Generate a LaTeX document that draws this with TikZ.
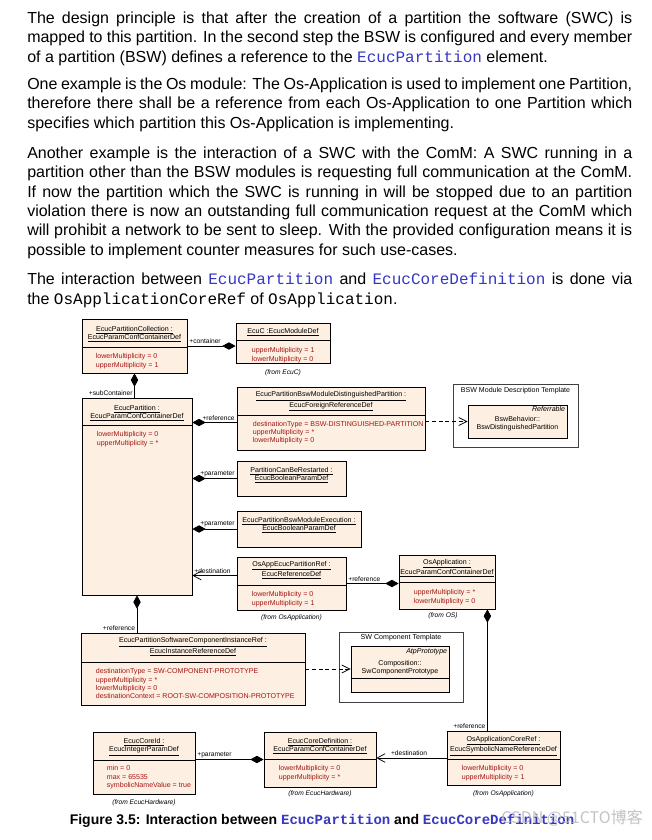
\documentclass[tikz,border=0pt]{standalone}
\usepackage{fontspec}
\setmainfont{Liberation Sans}
\setsansfont{Liberation Sans}
\setmonofont{Liberation Mono}
\newfontfamily\cjkfont{Noto Sans CJK SC}
\usetikzlibrary{positioning,arrows.meta,fit,calc}

\definecolor{classfill}{RGB}{253,240,226}
\definecolor{attrred}{RGB}{165,20,20}
\definecolor{codeblue}{RGB}{55,55,195}
\newcommand{\code}[1]{{\ttfamily\color{codeblue}#1}}
\newcommand{\plaincode}[1]{{\ttfamily #1}}
\newcommand{\fullline}[1]{\makebox[453.75pt][s]{#1}}

\begin{document}
\begin{tikzpicture}[
  x=0.75pt, y=-0.75pt,
  body/.style={anchor=base west, inner sep=0pt, align=left,
    font=\fontsize{12}{14.5}\selectfont},
  umlbox/.style={draw=black, fill=classfill, line width=0.6pt, inner sep=0pt},
  pkgbox/.style={draw=black!75, fill=white, line width=0.5pt, inner sep=0pt},
  umlhead/.style={anchor=base, inner sep=0pt, align=center,
    font=\fontsize{5.3}{6}\selectfont},
  umlattr/.style={anchor=base west, inner sep=0pt, align=left, text=attrred,
    font=\fontsize{5.3}{6.3}\selectfont},
  fromnote/.style={anchor=base, inner sep=0pt, font=\fontsize{5}{6}\selectfont\itshape},
  rolelbl/.style={inner sep=1.2pt, font=\fontsize{5}{6}\selectfont},
  comp/.style={draw, line width=0.55pt, {Diamond[length=10pt,width=5.5pt]}-},
  navig/.style={draw, line width=0.55pt, -{Straight Barb[length=6pt,width=6.5pt]}},
  depend/.style={draw, line width=0.6pt, dash pattern=on 3pt off 2pt,
    -{Straight Barb[length=6pt,width=6pt]}}
]
  \fill[white] (0,0) rectangle (652,840);
  \useasboundingbox (0,0) rectangle (652,840);

  % text above the figure (base = last line)
  \node[body] (par1) at (27,62) {\fullline{The design principle is that after the creation of a partition the software (SWC) is}\\
    \fullline{mapped to this partition. In the second step the BSW is configured and every member}\\
    of a partition (BSW) defines a reference to the \code{EcucPartition} element.};
  \node[body] (par2) at (27,128) {\fullline{One example is the Os module: The Os-Application is used to implement one Partition,}\\
    \fullline{therefore there shall be a reference from each Os-Application to one Partition which}\\
    specifies which partition this Os-Application is implementing.};
  \node[body] (par3) at (27,255) {\fullline{Another example is the interaction of a SWC with the ComM: A SWC running in a}\\
    \fullline{partition other than the BSW modules is requesting full communication at the ComM.}\\
    \fullline{If now the partition which the SWC is running in will be stopped due to an partition}\\
    \fullline{violation there is now an outstanding full communication request at the ComM which}\\
    \fullline{will prohibit a network to be sent to sleep. With the provided configuration means it is}\\
    possible to implement counter measures for such use-cases.};
  \node[body] (par4) at (27,304) {\fullline{The interaction between \code{EcucPartition} and \code{EcucCoreDefinition} is done via}\\
    the \plaincode{OsApplicationCoreRef} of \plaincode{OsApplication}.};

  % classes
  \node[umlbox, fit={(82,319)(187,373)}] (coll) {};
  \node[umlhead] (collhd) at ($(coll.north)+(0,21)$) {\underline{EcucPartitionCollection :}\\\underline{EcucParamConfContainerDef}};
  \draw ($(coll.north west)+(0,29)$) -- ($(coll.north east)+(0,29)$);
  \node[umlattr] (collat) at ($(coll.north west)+(14,48.4)$) {lowerMultiplicity = 0\\upperMultiplicity = 1};

  \node[umlbox, fit={(236,323)(330,363)}] (ecuc) {};
  \node[umlhead] (ecuchd) at ($(ecuc.north)+(0,11)$) {\underline{EcuC :EcucModuleDef}};
  \draw ($(ecuc.north west)+(0,18)$) -- ($(ecuc.north east)+(0,18)$);
  \node[umlattr] (ecucat) at ($(ecuc.north west)+(16,38.4)$) {upperMultiplicity = 1\\lowerMultiplicity = 0};
  \node[fromnote] (ecucfrom) at ($(ecuc.south)+(0,11)$) {(from EcuC)};

  \node[umlbox, fit={(82,398)(192,595)}] (part) {};
  \node[umlhead] (parthd) at ($(part.north)+(0,21)$) {\underline{EcucPartition :}\\\underline{EcucParamConfContainerDef}};
  \draw ($(part.north west)+(0,28)$) -- ($(part.north east)+(0,28)$);
  \node[umlattr] (partat) at ($(part.north west)+(15,47.4)$) {lowerMultiplicity = 0\\upperMultiplicity = *};

  \node[umlbox, fit={(237,387)(425,450)}] (dist) {};
  \node[umlhead] (disthd) at ($(dist.north)+(0,20.5)$) {\underline{EcucPartitionBswModuleDistinguishedPartition :}\\\underline{EcucForeignReferenceDef}};
  \draw ($(dist.north west)+(0,29)$) -- ($(dist.north east)+(0,29)$);
  \node[umlattr] (distat) at ($(dist.north west)+(16,56.3)$) {destinationType = BSW-DISTINGUISHED-PARTITION\\upperMultiplicity = *\\lowerMultiplicity = 0};

  \node[pkgbox, fit={(453,384)(578,447)}] (bswpkg) {};
  \node[umlhead] (bswpkghd) at ($(bswpkg.north)+(0,9)$) {BSW Module Description Template};
  \node[umlbox, fit={(468,405)(567,438)}] (bswin) {};
  \node[umlhead, anchor=base east, font=\fontsize{5.3}{6}\selectfont\itshape] (bswinst) at ($(bswin.north east)+(-2,7)$) {Referrable};
  \node[umlhead] (bswinhd) at ($(bswin.north)+(0,24.5)$) {BswBehavior::\\BswDistinguishedPartition};

  \node[umlbox, fit={(237,461)(346,496)}] (pcbr) {};
  \node[umlhead] (pcbrhd) at ($(pcbr.north)+(0,20)$) {\underline{PartitionCanBeRestarted :}\\\underline{EcucBooleanParamDef}};

  \node[umlbox, fit={(237,511)(361,547)}] (exec) {};
  \node[umlhead] (exechd) at ($(exec.north)+(0,20)$) {\underline{EcucPartitionBswModuleExecution :}\\\underline{EcucBooleanParamDef}};

  \node[umlbox, fit={(237,557)(346,610)}] (osref) {};
  \node[umlhead] (osrefhd) at ($(osref.north)+(0,20)$) {\underline{OsAppEcucPartitionRef :}\\\underline{EcucReferenceDef}};
  \draw ($(osref.north west)+(0,29)$) -- ($(osref.north east)+(0,29)$);
  \node[umlattr] (osrefat) at ($(osref.north west)+(15,48.4)$) {lowerMultiplicity = 0\\upperMultiplicity = 1};
  \node[fromnote] (osreffrom) at ($(osref.south)+(0,9)$) {(from OsApplication)};

  \node[umlbox, fit={(399,555)(495,609)}] (osapp) {};
  \node[umlhead] (osapphd) at ($(osapp.north)+(0,20)$) {\underline{OsApplication :}\\\underline{EcucParamConfContainerDef}};
  \draw ($(osapp.north west)+(0,28)$) -- ($(osapp.north east)+(0,28)$);
  \node[umlattr] (osappat) at ($(osapp.north west)+(15,48.4)$) {upperMultiplicity = *\\lowerMultiplicity = 0};
  \node[fromnote] (osappfrom) at ($(osapp.south)+(-4,8)$) {(from OS)};

  \node[umlbox, fit={(81,633)(305,705)}] (swcref) {};
  \node[umlhead] (swcrefhd) at ($(swcref.north)+(0,20.5)$) {\underline{EcucPartitionSoftwareComponentInstanceRef :}\\\underline{EcucInstanceReferenceDef}};
  \draw ($(swcref.north west)+(0,30)$) -- ($(swcref.north east)+(0,30)$);
  \node[umlattr] (swcrefat) at ($(swcref.north west)+(15,66.2)$) {destinationType = SW-COMPONENT-PROTOTYPE\\upperMultiplicity = *\\lowerMultiplicity = 0\\destinationContext = ROOT-SW-COMPOSITION-PROTOTYPE};

  \node[pkgbox, fit={(339,632)(463,702)}] (swcpkg) {};
  \node[umlhead] (swcpkghd) at ($(swcpkg.north)+(0,8)$) {SW Component Template};
  \node[umlbox, fit={(351,646)(449,692)}] (swcin) {};
  \node[umlhead, anchor=base east, font=\fontsize{5.3}{6}\selectfont\itshape] (swcinst) at ($(swcin.north east)+(-2,8)$) {AtpPrototype};
  \node[umlhead] (swcinhd) at ($(swcin.north)+(0,27.5)$) {Composition::\\SwComponentPrototype};
  \draw ($(swcin.north west)+(0,33)$) -- ($(swcin.north east)+(0,33)$);

  \node[umlbox, fit={(93,732)(195,794)}] (coreid) {};
  \node[umlhead] (coreidhd) at ($(coreid.north)+(0,20)$) {\underline{EcucCoreId :}\\\underline{EcucIntegerParamDef}};
  \draw ($(coreid.north west)+(0,29)$) -- ($(coreid.north east)+(0,29)$);
  \node[umlattr] (coreidat) at ($(coreid.north west)+(14,55.8)$) {min = 0\\max = 65535\\symbolicNameValue = true};
  \node[fromnote] (coreidfrom) at ($(coreid.south)+(0,10)$) {(from EcucHardware)};

  \node[umlbox, fit={(264,732)(376,787)}] (coredef) {};
  \node[umlhead] (coredefhd) at ($(coredef.north)+(0,20)$) {\underline{EcucCoreDefinition :}\\\underline{EcucParamConfContainerDef}};
  \draw ($(coredef.north west)+(0,28)$) -- ($(coredef.north east)+(0,28)$);
  \node[umlattr] (coredefat) at ($(coredef.north west)+(15,47.4)$) {lowerMultiplicity = 0\\upperMultiplicity = *};
  \node[fromnote] (coredeffrom) at ($(coredef.south)+(0,8)$) {(from EcucHardware)};

  \node[umlbox, fit={(447,731)(560,785)}] (coreref) {};
  \node[umlhead] (corerefhd) at ($(coreref.north)+(0,21)$) {\underline{OsApplicationCoreRef :}\\\underline{EcucSymbolicNameReferenceDef}};
  \draw ($(coreref.north west)+(0,29)$) -- ($(coreref.north east)+(0,29)$);
  \node[umlattr] (corerefat) at ($(coreref.north west)+(15,48.4)$) {lowerMultiplicity = 0\\upperMultiplicity = 1};
  \node[fromnote] (corereffrom) at ($(coreref.south)+(0,10)$) {(from OsApplication)};

  % associations
  \draw[comp] (coll.east -| ecuc.west) -- (coll.east)
    node[rolelbl, pos=1, anchor=south west] (lcont) {+container};
  \draw[comp] (coll.south) -- (coll.south |- part.north)
    node[rolelbl, pos=1, anchor=south east] (lsub) {+subContainer};
  \coordinate (distin) at ($(dist.west)+(0,4)$);
  \draw[comp] (part.east |- distin) -- (distin)
    node[rolelbl, pos=1, anchor=south east] (lref1) {+reference};
  \draw[comp] (part.east |- pcbr.west) -- (pcbr.west)
    node[rolelbl, pos=1, anchor=south east] (lpar1) {+parameter};
  \draw[comp] (part.east |- exec.west) -- (exec.west)
    node[rolelbl, pos=1, anchor=south east] (lpar2) {+parameter};
  \coordinate (osrefout) at ($(osref.west)+(0,-8)$);
  \draw[navig] (osrefout) -- (osrefout -| part.east)
    node[rolelbl, pos=1, anchor=south west] (ldest1) {+destination};
  \draw[comp] (osref.east -| osapp.west) -- (osref.east)
    node[rolelbl, pos=1, anchor=south west] (lref2) {+reference};
  \draw[comp] (part.south) -- (part.south |- swcref.north)
    node[rolelbl, pos=1, anchor=south east] (lref3) {+reference};
  \coordinate (osappdn) at ($(osapp.south east)+(-8,0)$);
  \draw[comp] (osappdn) -- (osappdn |- coreref.north)
    node[rolelbl, pos=1, anchor=south east] (lref4) {+reference};
  \draw[comp] (coredef.west) -- (coredef.west -| coreid.east)
    node[rolelbl, pos=1, anchor=south west] (lpar3) {+parameter};
  \draw[navig] (coreref.west) -- (coreref.west -| coredef.east)
    node[rolelbl, pos=0.82, anchor=south west] (ldest2) {+destination};

  % dependencies to the templates
  \draw[depend] (bswin.west -| dist.east) -- (bswin.west);
  \draw[depend] (swcref.east) -- (swcref.east -| swcin.west);

  % caption
  \node[anchor=base, inner sep=0pt, font=\fontsize{10.5}{12}\selectfont\bfseries] (caption) at (322,824)
    {Figure 3.5: Interaction between \code{EcucPartition} and \code{EcucCoreDefinition}};
  \node[anchor=base east, inner sep=0pt, text=gray!55, opacity=0.85, font=\fontsize{12}{14}\cjkfont] (wmark) at (643,823)
    {CSDN @51CTO博客};
\end{tikzpicture}
\end{document}
